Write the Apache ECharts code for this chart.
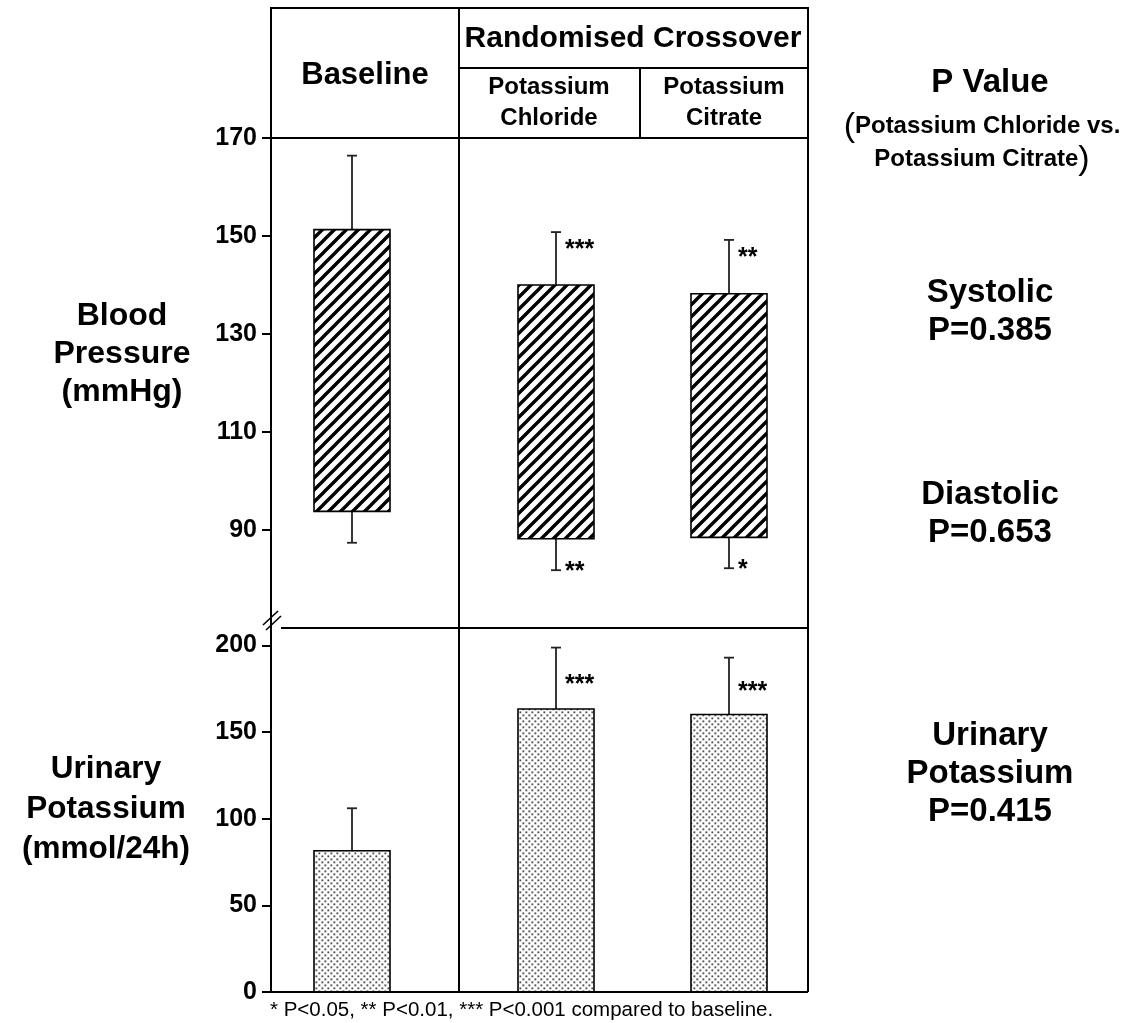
<!DOCTYPE html>
<html>
<head>
<meta charset="utf-8">
<script src="https://cdn.jsdelivr.net/npm/echarts@6/dist/echarts.min.js"></script>
<style>
html,body{margin:0;padding:0;background:#fff;}
#c{width:1135px;height:1023px;}
</style>
</head>
<body>
<div id="c"></div>
<script>
// ---------- data ----------
const groups = ['Baseline', 'Potassium Chloride', 'Potassium Citrate'];
const systolicMean  = [151.3, 140.0, 138.2];
const systolicSD    = [15.1, 10.8, 11.0];
const diastolicMean = [93.8, 88.2, 88.5];
const diastolicSD   = [6.4, 6.4, 6.3];
const urinaryKMean  = [81.5, 163.3, 160.1];
const urinaryKSD    = [24.5, 35.4, 32.8];
const systolicStars  = ['', '***', '**'];
const diastolicStars = ['', '**', '*'];
const urinaryStars   = ['', '***', '***'];
const bpTicks = [90, 110, 130, 150, 170];
const ukTicks = [0, 50, 100, 150, 200];
const pValues = { systolic: 'P=0.385', diastolic: 'P=0.653', urinary: 'P=0.415' };

// ---------- styling ----------
const FONT = '"Liberation Sans", Arial, Helvetica, sans-serif';
const BAR_W = 76;
const CAP = 5;

function hatchPattern() {
  const s = 12;
  const c = document.createElement('canvas');
  c.width = s; c.height = s;
  const g = c.getContext('2d');
  g.fillStyle = '#fff'; g.fillRect(0, 0, s, s);
  g.strokeStyle = '#000'; g.lineWidth = 3.4;
  g.beginPath();
  [0, s, 2 * s].forEach(k => { g.moveTo(k + s, -s); g.lineTo(k - 2 * s, 2 * s); });
  g.stroke();
  return { image: c, repeat: 'repeat' };
}
function dotPattern() {
  const s = 6;
  const c = document.createElement('canvas');
  c.width = s; c.height = s;
  const g = c.getContext('2d');
  g.fillStyle = '#fff'; g.fillRect(0, 0, s, s);
  g.fillStyle = '#555';
  g.fillRect(0.4, 0.4, 1.9, 1.9);
  g.fillRect(3.4, 3.4, 1.9, 1.9);
  return { image: c, repeat: 'repeat' };
}
const HATCH = hatchPattern();
const DOTS = dotPattern();

function starText(t, x, y) {
  return {
    type: 'text',
    style: {
      text: t, x: x, y: y, fill: '#000',
      font: 'bold 25px ' + FONT,
      textAlign: 'left', align: 'left',
      textVerticalAlign: 'middle', verticalAlign: 'middle'
    }
  };
}

function makeRender(fill, hiStar, loStar, midStars) {
  return function (params, api) {
    const cat = api.value(0);
    const lo = api.coord([cat, api.value(1)]);
    const hi = api.coord([cat, api.value(2)]);
    const eHi = api.coord([cat, api.value(3)]);
    const cx = Math.round(hi[0]);
    const es = { stroke: '#222', lineWidth: 1.8 };
    const ch = [];
    ch.push({ type: 'line', shape: { x1: cx, y1: hi[1], x2: cx, y2: eHi[1] }, style: es });
    ch.push({ type: 'line', shape: { x1: cx - CAP, y1: eHi[1], x2: cx + CAP, y2: eHi[1] }, style: es });
    const loV = api.value(4);
    let eLo = null;
    if (isFinite(loV)) {
      eLo = api.coord([cat, loV]);
      ch.push({ type: 'line', shape: { x1: cx, y1: lo[1], x2: cx, y2: eLo[1] }, style: es });
      ch.push({ type: 'line', shape: { x1: cx - CAP, y1: eLo[1], x2: cx + CAP, y2: eLo[1] }, style: es });
    }
    ch.push({
      type: 'rect',
      shape: { x: cx - BAR_W / 2, y: hi[1], width: BAR_W, height: lo[1] - hi[1] },
      style: { fill: fill, stroke: '#000', lineWidth: 1.6 }
    });
    if (midStars) {
      if (hiStar) ch.push(starText(hiStar, cx + 9, (hi[1] + eHi[1]) / 2 + 6.5));
    } else {
      if (hiStar) ch.push(starText(hiStar, cx + 9, eHi[1] + 18));
      if (loStar && eLo) ch.push(starText(loStar, cx + 9, eLo[1] + 1.5));
    }
    return { type: 'group', children: ch };
  };
}

// ---------- layout ----------
const cols = [{ left: 271, width: 162 }, { left: 480, width: 152 }, { left: 653, width: 152 }];
const topPanel = { top: 138, height: 490 };
const botPanel = { top: 628, height: 364 };

const grids = [];
const xAxes = [];
const yAxes = [];
const series = [];
for (let p = 0; p < 2; p++) {
  for (let i = 0; i < 3; i++) {
    const gi = p * 3 + i;
    const isTop = p === 0;
    grids.push(Object.assign({ outerBoundsMode: 'none', containLabel: false }, cols[i], isTop ? topPanel : botPanel));
    xAxes.push({ type: 'category', gridIndex: gi, data: [groups[i]], show: false });
    const ticks = isTop ? bpTicks : ukTicks;
    yAxes.push({
      type: 'value', gridIndex: gi,
      min: isTop ? 70 : 0, max: isTop ? 170 : 210,
      show: i === 0,
      axisLine: { show: true, lineStyle: { color: '#000', width: 2 } },
      axisTick: { show: true, length: 9, lineStyle: { color: '#000', width: 2 }, customValues: ticks },
      axisLabel: { show: true, customValues: ticks, color: '#000', fontSize: 25, fontWeight: 'bold', fontFamily: FONT, margin: 14 },
      splitLine: { show: false }
    });
    const data = isTop
      ? [[groups[i], diastolicMean[i], systolicMean[i], systolicMean[i] + systolicSD[i], diastolicMean[i] - diastolicSD[i]]]
      : [[groups[i], 0, urinaryKMean[i], urinaryKMean[i] + urinaryKSD[i]]];
    series.push({
      type: 'custom', xAxisIndex: gi, yAxisIndex: gi, clip: false, silent: true,
      renderItem: isTop
        ? makeRender(HATCH, systolicStars[i], diastolicStars[i], false)
        : makeRender(DOTS, urinaryStars[i], '', true),
      data: data
    });
  }
}

// ---------- frame / text ----------
const L = (x1, y1, x2, y2, w) => ({ type: 'line', silent: true, z: 50, shape: { x1, y1, x2, y2 }, style: { stroke: '#000', lineWidth: w || 2 } });
const T = (text, x, y, size, lh, weight) => ({
  type: 'text', silent: true, z: 50, x: x, y: y,
  style: {
    text: text, fill: '#000', font: (weight || 'bold') + ' ' + size + 'px ' + FONT,
    textAlign: 'center', align: 'center', textVerticalAlign: 'middle', verticalAlign: 'middle',
    lineHeight: lh || size
  }
});

const graphics = [
  L(270, 8, 809, 8),
  L(271, 8, 271, 138),
  L(808, 8, 808, 992),
  L(459, 8, 459, 992),
  L(459, 68, 808, 68),
  L(640, 68, 640, 138),
  L(270, 138, 808, 138),
  L(281, 628, 808, 628),
  L(270, 992, 808, 992),
  L(263, 625, 278, 611, 1.6),
  L(266, 630, 281, 616, 1.6),
  T('Baseline', 365, 75, 31),
  T('Randomised Crossover', 633, 39, 30),
  T('Potassium\nChloride', 549, 103, 24, 31),
  T('Potassium\nCitrate', 724, 103, 24, 31),
  T('Blood\nPressure\n(mmHg)', 122, 354, 32, 38),
  T('Urinary\nPotassium\n(mmol/24h)', 106, 809, 31.5, 40),
  T('P Value', 990, 83, 33),
  {
    type: 'text', silent: true, z: 50, x: 982, y: 143,
    style: {
      text: '{p|(}{t|Potassium Chloride vs.}\n{t|Potassium Citrate}{p|)}',
      fill: '#000', textAlign: 'center', align: 'center', textVerticalAlign: 'middle', verticalAlign: 'middle',
      rich: {
        p: { font: 'normal 34px ' + FONT, lineHeight: 33, fill: '#000' },
        t: { font: 'bold 24px ' + FONT, lineHeight: 33, fill: '#000' }
      }
    }
  },
  T('Systolic\n' + pValues.systolic, 990, 312, 33, 38),
  T('Diastolic\n' + pValues.diastolic, 990, 514, 33, 38),
  T('Urinary\nPotassium\n' + pValues.urinary, 990, 774, 33, 38),
  {
    type: 'text', silent: true, z: 50, x: 270, y: 1010,
    style: {
      text: '* P<0.05, ** P<0.01, *** P<0.001 compared to baseline.',
      fill: '#000', font: 'normal 20.5px ' + FONT,
      textAlign: 'left', align: 'left', textVerticalAlign: 'middle', verticalAlign: 'middle'
    }
  }
];

const chart = echarts.init(document.getElementById('c'), null, { renderer: 'canvas', width: 1135, height: 1023 });
chart.setOption({
  backgroundColor: '#fff',
  animation: false,
  grid: grids,
  xAxis: xAxes,
  yAxis: yAxes,
  series: series,
  graphic: graphics
});
</script>
</body>
</html>
